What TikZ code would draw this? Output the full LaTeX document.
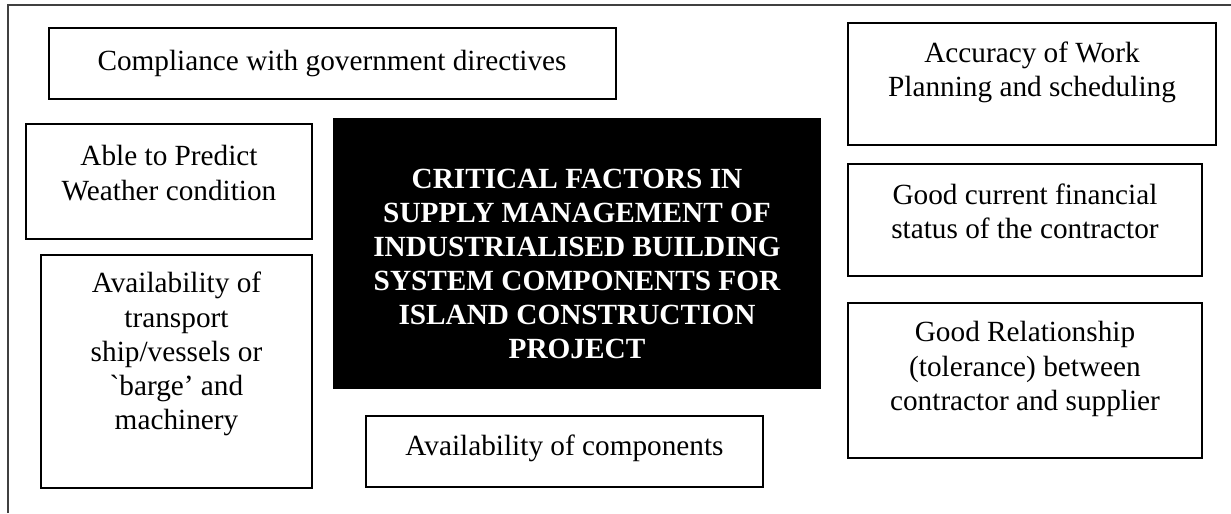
\documentclass[tikz,border=0pt]{standalone}
\usepackage{fontspec}
\setmainfont{Liberation Serif}

\tikzset{
	factor/.style={align=center, font=\fontsize{12}{14}\selectfont},
	boxline/.style={draw=black, line width=0.9pt},
	core/.style={align=center, text=white, font=\fontsize{12}{13.9}\selectfont\bfseries},
}

\begin{document}
\begin{tikzpicture}[x=0.41pt, y=-0.41pt]
	\useasboundingbox (0,0) rectangle (1231,513);
	% frame, only top and left edge
	\draw[black!75, line width=0.7pt] (8,513) -- (8,5) -- (1231,5);
	% centre block
	\fill[black] (333,118) rectangle (821,389);
	\node[core] (title) at (577,264) {CRITICAL FACTORS IN\\SUPPLY MANAGEMENT OF\\INDUSTRIALISED BUILDING\\SYSTEM COMPONENTS FOR\\ISLAND CONSTRUCTION\\PROJECT};
	% left side
	\draw[boxline] (49,28) rectangle (616,99);
	\node[factor] (directives) at (332,63.5) {Compliance with government directives};
	\draw[boxline] (26,124) rectangle (312,239);
	\node[factor] (weather) at (169,173) {Able to Predict\\Weather condition};
	\draw[boxline] (41,255) rectangle (312,488);
	\node[factor] (transport) at (176.5,354) {Availability of\\transport\\ship/vessels or\\\textasciigrave barge’ and\\machinery};
	\draw[boxline] (366,416) rectangle (763,487);
	\node[factor] (components) at (564.5,448) {Availability of components};
	% right side
	\draw[boxline] (848,23) rectangle (1216,145);
	\node[factor] (planning) at (1032,72) {Accuracy of Work\\Planning and scheduling};
	\draw[boxline] (848,164) rectangle (1202,276);
	\node[factor] (financial) at (1025,211) {Good current financial\\status of the contractor};
	\draw[boxline] (848,303) rectangle (1202,458);
	\node[factor] (relationship) at (1025,369) {Good Relationship\\(tolerance) between\\contractor and supplier};
\end{tikzpicture}
\end{document}
